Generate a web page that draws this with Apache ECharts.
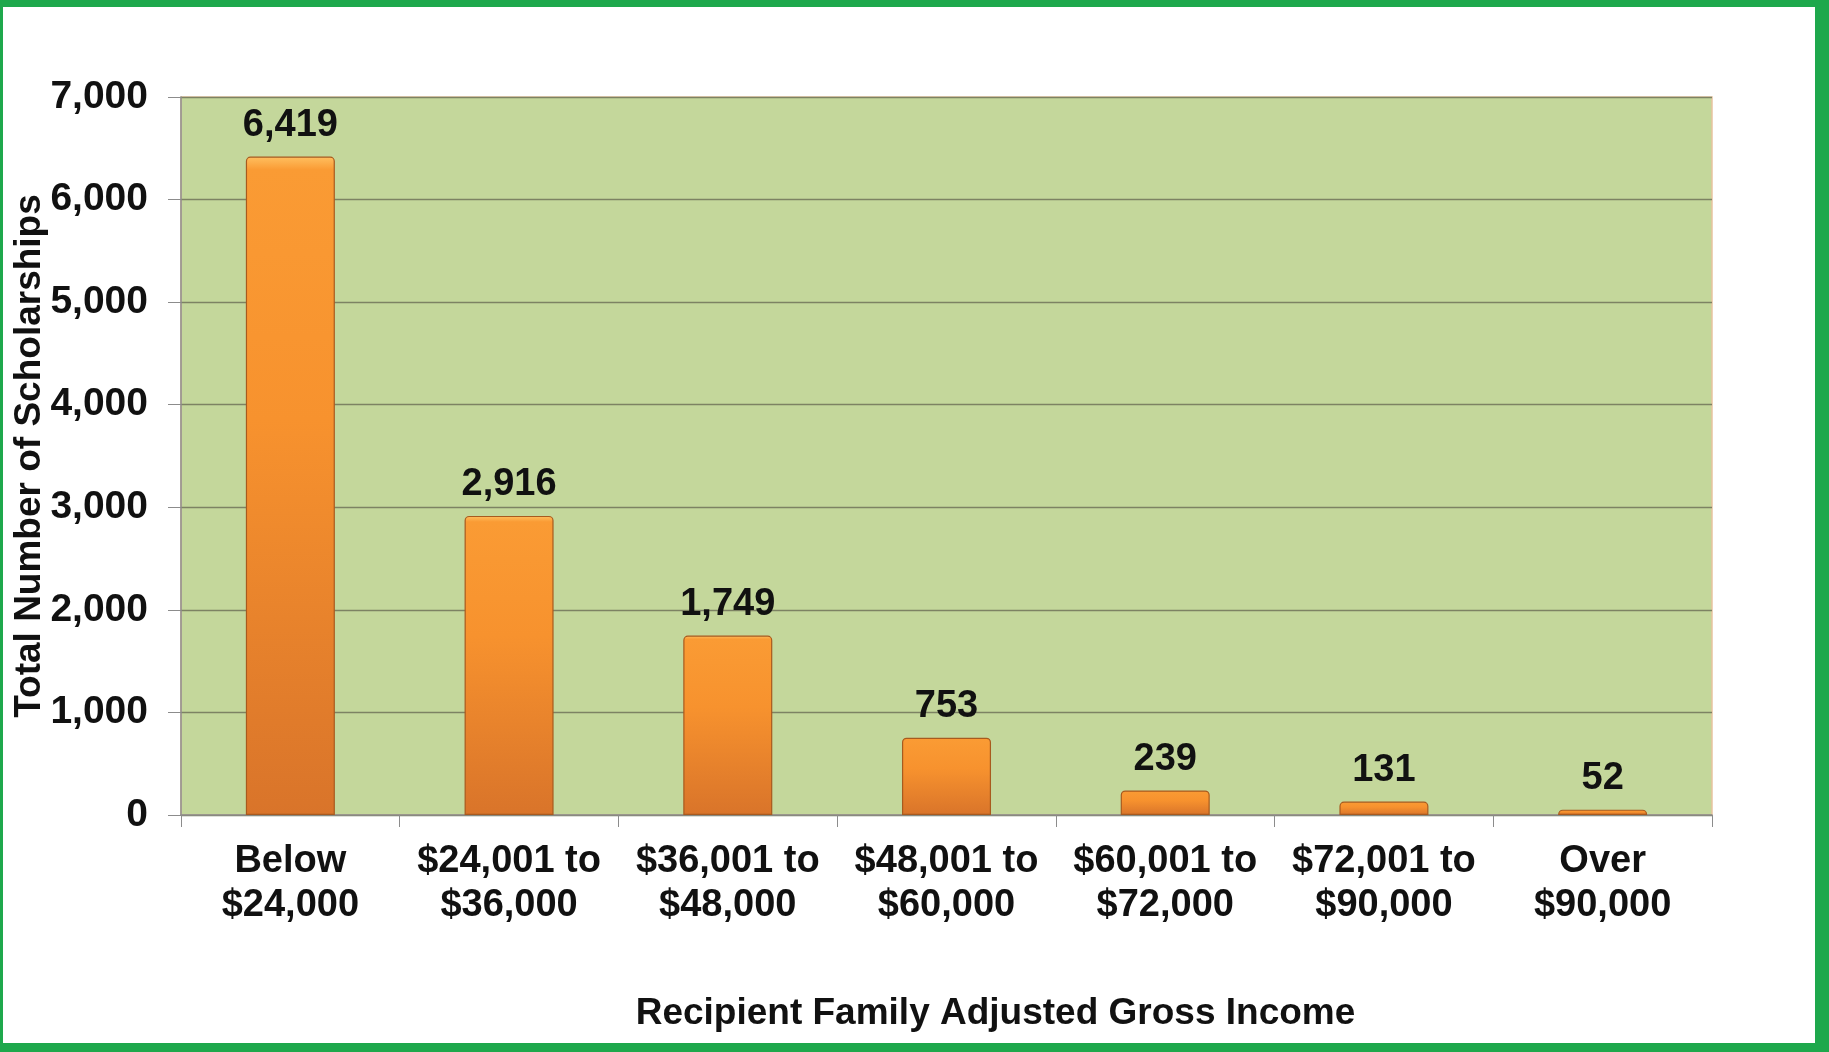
<!DOCTYPE html>
<html>
<head>
<meta charset="utf-8">
<script src="https://cdn.jsdelivr.net/npm/echarts@6/dist/echarts.min.js"></script>
<style>
html,body{margin:0;padding:0;background:#fff;}
#frame{position:absolute;left:0;top:0;width:1829px;height:1052px;box-sizing:border-box;
border-style:solid;border-color:#1ea84c;border-width:7px 14px 9px 3px;}
#chart{position:absolute;left:0;top:0;width:1829px;height:1052px;}
</style>
</head>
<body>
<div id="chart"></div>
<div id="frame"></div>
<script>
var categories = ['Below\n$24,000', '$24,001 to\n$36,000', '$36,001 to\n$48,000', '$48,001 to\n$60,000', '$60,001 to\n$72,000', '$72,001 to\n$90,000', 'Over\n$90,000'];
var scholarships = [6419, 2916, 1749, 753, 239, 131, 52];
var yTicks = {min: 0, max: 7000, interval: 1000};

var font = '"Liberation Sans", Arial, sans-serif';
var chart = echarts.init(document.getElementById('chart'));
chart.setOption({
  animation: false,
  grid: {left: 181, right: 117, top: 97, bottom: 237, show: true, containLabel: false, outerBoundsMode: 'none',
         backgroundColor: '#c4d79b', borderColor: '#e8c3a0', borderWidth: 1.5},
  xAxis: {
    type: 'category', data: categories,
    name: 'Recipient Family Adjusted Gross Income', nameLocation: 'middle', nameGap: 180,
    nameTextStyle: {fontFamily: font, fontWeight: 'bold', fontSize: 37, color: '#111', padding: [0, 0, 0, 98]},
    axisLine: {lineStyle: {color: '#8c8c8c', width: 1.5}},
    axisTick: {show: true, length: 12, alignWithLabel: false, lineStyle: {color: '#8c8c8c'}},
    axisLabel: {fontFamily: font, fontWeight: 'bold', fontSize: 38, color: '#111', lineHeight: 44, margin: 25, interval: 0}
  },
  yAxis: {
    type: 'value', min: yTicks.min, max: yTicks.max, interval: yTicks.interval,
    name: 'Total Number of Scholarships', nameLocation: 'middle', nameGap: 133, nameMoveOverlap: false,
    nameTextStyle: {fontFamily: font, fontWeight: 'bold', fontSize: 37, color: '#111'},
    axisLine: {show: true, lineStyle: {color: '#8c8c8c', width: 1.5}},
    axisTick: {show: true, length: 13, lineStyle: {color: '#8c8c8c'}},
    splitLine: {lineStyle: {color: '#7d8263', width: 1.3}},
    axisLabel: {fontFamily: font, fontWeight: 'bold', fontSize: 39, color: '#111', margin: 33,
      formatter: function(v){ return v.toLocaleString('en-US'); }}
  },
  series: [{
    type: 'bar', data: scholarships, barWidth: '40.7%',
    itemStyle: {
      color: {type: 'linear', x: 0, y: 0, x2: 0, y2: 1, colorStops: [
        {offset: 0, color: '#ffc060'}, {offset: 0.02, color: '#fa9b34'},
        {offset: 0.4, color: '#f7922e'}, {offset: 1, color: '#d9742a'}]},
      borderColor: '#a85a1e', borderWidth: 1.2, borderRadius: [4, 4, 0, 0]
    },
    label: {show: true, position: 'top', distance: 12, fontFamily: font, fontWeight: 'bold', fontSize: 38, color: '#111',
      formatter: function(p){ return p.value.toLocaleString('en-US'); }}
  }]
});
</script>
</body>
</html>
